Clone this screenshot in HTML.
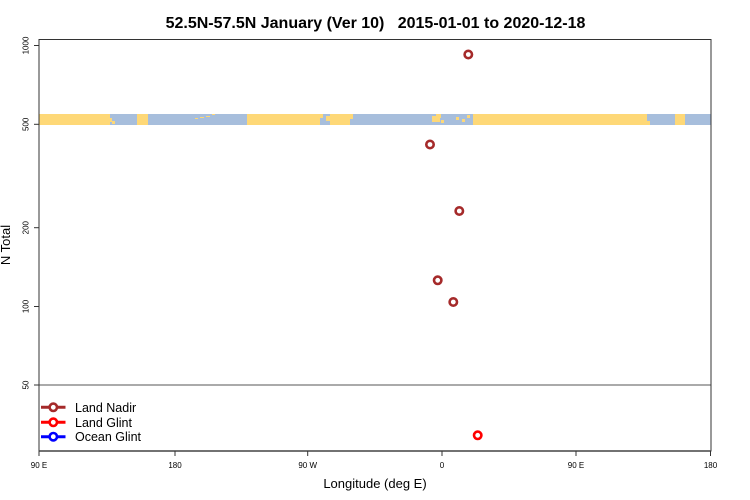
<!DOCTYPE html>
<html>
<head>
<meta charset="utf-8">
<style>
html,body{margin:0;padding:0;background:#fff;}
svg{display:block;}
text{font-family:"Liberation Sans",Arial,sans-serif;}
</style>
</head>
<body>
<svg width="750" height="500" viewBox="0 0 750 500" xmlns="http://www.w3.org/2000/svg">
<rect width="750" height="500" fill="#fff"/>
<!-- title -->
<text x="375.5" y="28" font-size="16" font-weight="bold" text-anchor="middle" fill="#000" xml:space="preserve">52.5N-57.5N January (Ver 10)   2015-01-01 to 2020-12-18</text>

<!-- land/ocean band -->
<g>
<rect x="39" y="114" width="672" height="11" fill="#A7BEDC"/>
<rect x="39" y="114" width="71" height="11" fill="#FED877"/>
<rect x="108" y="118" width="4" height="4" fill="#FED877"/>
<rect x="112" y="121" width="3" height="3" fill="#FED877"/>
<rect x="137" y="114" width="11" height="11" fill="#FED877"/>
<rect x="195" y="118" width="3" height="1" fill="#FED877"/>
<rect x="200" y="117" width="4" height="1" fill="#FED877"/>
<rect x="206" y="116" width="4" height="1" fill="#FED877"/>
<rect x="212" y="114" width="3" height="1" fill="#FED877"/>
<rect x="247" y="114" width="73" height="11" fill="#FED877"/>
<rect x="320" y="114" width="3" height="4" fill="#FED877"/>
<rect x="326" y="116" width="4" height="5" fill="#FED877"/>
<rect x="330" y="114" width="20" height="11" fill="#FED877"/>
<rect x="350" y="114" width="3" height="5" fill="#FED877"/>
<rect x="432" y="116" width="8" height="6" fill="#FED877"/>
<rect x="436" y="114" width="5" height="4" fill="#FED877"/>
<rect x="441" y="120" width="3" height="3" fill="#FED877"/>
<rect x="456" y="117" width="3" height="3" fill="#FED877"/>
<rect x="462" y="119" width="3" height="3" fill="#FED877"/>
<rect x="467" y="115" width="3" height="3" fill="#FED877"/>
<rect x="473" y="114" width="174" height="11" fill="#FED877"/>
<rect x="647" y="121" width="3" height="4" fill="#FED877"/>
<rect x="675" y="114" width="10" height="11" fill="#FED877"/>
</g>

<!-- 50 line -->
<line x1="39" y1="385" x2="711" y2="385" stroke="#555" stroke-width="1"/>

<!-- frame -->
<rect x="39" y="39.5" width="672" height="411.5" fill="none" stroke="#333" stroke-width="1"/>
<line x1="39" y1="451" x2="711" y2="451" stroke="#444" stroke-width="1.6"/>

<!-- y ticks -->
<g stroke="#333" stroke-width="1">
<line x1="34" y1="45.5" x2="39" y2="45.5"/>
<line x1="34" y1="124.3" x2="39" y2="124.3"/>
<line x1="34" y1="227.7" x2="39" y2="227.7"/>
<line x1="34" y1="306.5" x2="39" y2="306.5"/>
<line x1="34" y1="385" x2="39" y2="385"/>
</g>
<g font-size="8" fill="#000" text-anchor="middle">
<text transform="translate(28.5,45.5) rotate(-90)">1000</text>
<text transform="translate(28.5,124.3) rotate(-90)">500</text>
<text transform="translate(28.5,227.7) rotate(-90)">200</text>
<text transform="translate(28.5,306.5) rotate(-90)">100</text>
<text transform="translate(28.5,385) rotate(-90)">50</text>
</g>
<text transform="translate(10,245) rotate(-90)" font-size="13" text-anchor="middle" fill="#000">N Total</text>

<!-- x ticks -->
<g stroke="#333" stroke-width="1">
<line x1="39" y1="451" x2="39" y2="456"/>
<line x1="175" y1="451" x2="175" y2="456"/>
<line x1="307.7" y1="451" x2="307.7" y2="456"/>
<line x1="442" y1="451" x2="442" y2="456"/>
<line x1="576" y1="451" x2="576" y2="456"/>
<line x1="710.5" y1="451" x2="710.5" y2="456"/>
</g>
<g font-size="8" fill="#000" text-anchor="middle">
<text x="39" y="468">90 E</text>
<text x="175" y="468">180</text>
<text x="307.7" y="468">90 W</text>
<text x="442" y="468">0</text>
<text x="576" y="468">90 E</text>
<text x="710.5" y="468">180</text>
</g>
<text x="375" y="488" font-size="13" text-anchor="middle" fill="#000">Longitude (deg E)</text>

<!-- data points -->
<g fill="none" stroke="#A52A2A" stroke-width="2.6">
<circle cx="468.3" cy="54.5" r="3.7"/>
<circle cx="430" cy="144.5" r="3.7"/>
<circle cx="459.3" cy="211" r="3.7"/>
<circle cx="437.7" cy="280.3" r="3.7"/>
<circle cx="453.3" cy="302" r="3.7"/>
</g>
<circle cx="477.7" cy="435.3" r="3.7" fill="none" stroke="#FF0000" stroke-width="2.6"/>

<!-- legend -->
<g stroke-width="3">
<line x1="41" y1="407.3" x2="65.5" y2="407.3" stroke="#A52A2A"/>
<circle cx="53.3" cy="407.3" r="3.7" fill="#fff" stroke="#A52A2A" stroke-width="2.6"/>
<line x1="41" y1="422.3" x2="65.5" y2="422.3" stroke="#FF0000"/>
<circle cx="53.3" cy="422.3" r="3.7" fill="#fff" stroke="#FF0000" stroke-width="2.6"/>
<line x1="41" y1="436.7" x2="65.5" y2="436.7" stroke="#0000FF"/>
<circle cx="53.3" cy="436.7" r="3.7" fill="#fff" stroke="#0000FF" stroke-width="2.6"/>
</g>
<g font-size="12.5" fill="#000">
<text x="75" y="411.8">Land Nadir</text>
<text x="75" y="426.8">Land Glint</text>
<text x="75" y="441.2">Ocean Glint</text>
</g>
</svg>
</body>
</html>
